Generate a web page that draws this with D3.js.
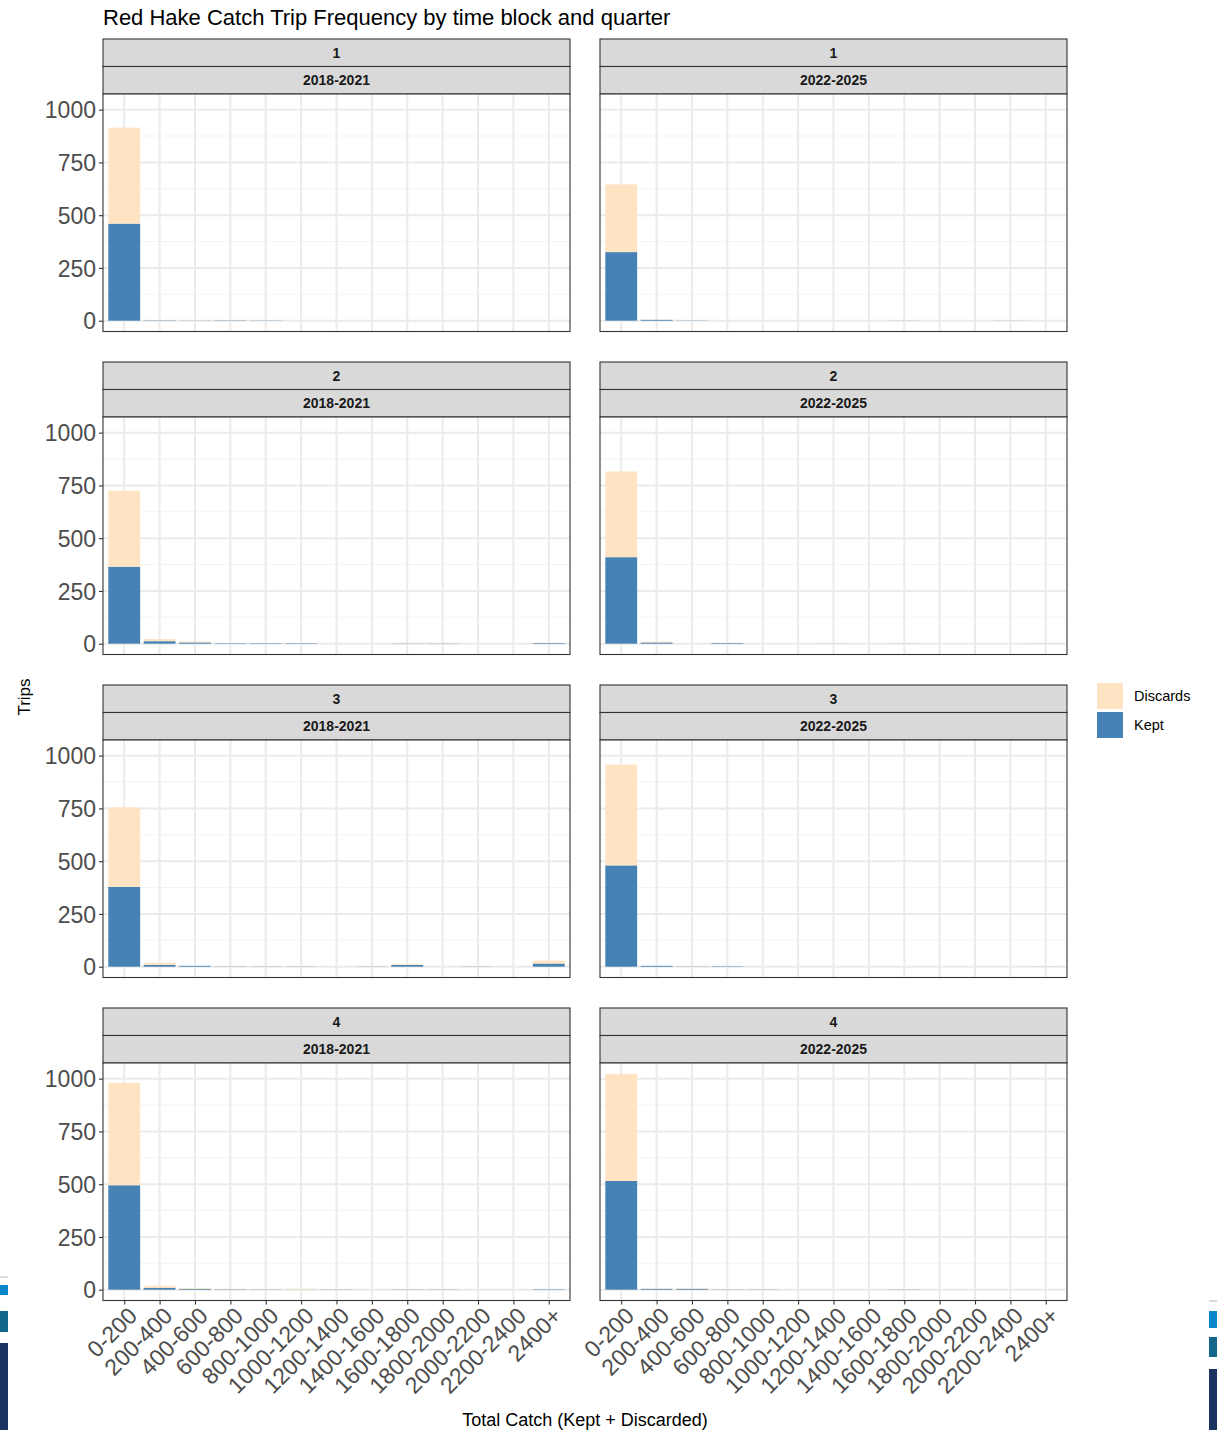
<!DOCTYPE html>
<html><head><meta charset="utf-8">
<script src="https://cdn.jsdelivr.net/npm/d3@7"></script>
<style>body{margin:0;background:#fff;} text{font-family:"Liberation Sans",Arial,sans-serif;}</style>
</head><body><svg id="c" width="1217" height="1430"></svg>
<script>
const categories = ["0-200","200-400","400-600","600-800","800-1000","1000-1200","1200-1400","1400-1600","1600-1800","1800-2000","2000-2200","2200-2400","2400+"];
const quarters = ["1","2","3","4"];
const blocks = ["2018-2021","2022-2025"];
const yTicks = [0,250,500,750,1000];
const seriesNames = ["Discards","Kept"];

// Q1
const keptQ1A = [460,2,1,2,1,0,0,0,0,0,0,0,0];
const discQ1A = [455,1,1,1,0,0,0,0,0,0,0,0,0];
const keptQ1B = [325,4,1,0,0,0,0,0,0.5,0,0,0.5,0];
const discQ1B = [321,1,0,0,0,0,0,0,0,0,0,0,0];
// Q2
const keptQ2A = [365,12,6,2,2,2,0,0,1,1,0,0,3];
const discQ2A = [360,10,5,0,0,0,0,0,0,0,0,0,0];
const keptQ2B = [410,6,0,3,0,0,0.5,0,0.5,0,0,0,0.5];
const discQ2B = [406,4,0,0,0,0,0,0,0,0,0,0,0];
// Q3
const keptQ3A = [378,9,4,1,1,1,0,1,8,0,1,0,15];
const discQ3A = [377,10,0,0,1,1,0,1,4,0,1,0,14];
const keptQ3B = [480,4,1,2,0,0,0,0,0,0,0,0,0.5];
const discQ3B = [478,0,0,0,0,0,0,0,0,0,0,0,0];
// Q4
const keptQ4A = [495,9,4,2,1,1,1,0,1,1,0,0,2];
const discQ4A = [485,10,4,1,0,3,0,0,0,0,0,0,0];
const keptQ4B = [515,4,4,1,1,0,0,0,1,0,0,0,0];
const discQ4B = [508,3,3,0,0,0,0,0,0,0,0,0,0];

const panelData = [
  [keptQ1A, discQ1A, keptQ1B, discQ1B],
  [keptQ2A, discQ2A, keptQ2B, discQ2B],
  [keptQ3A, discQ3A, keptQ3B, discQ3B],
  [keptQ4A, discQ4A, keptQ4B, discQ4B]
];

const colors = {Kept:"#4682B4", Discards:"#FFE4C4"};
const svg = d3.select("#c");

// background decorations at edges
const deco = [
  {x:0,y:1276,w:8,h:2,c:"#D8DCE0"},{x:0,y:1285,w:8,h:10,c:"#0A87C8"},{x:0,y:1311,w:8,h:21,c:"#13678A"},{x:0,y:1343,w:8,h:87,c:"#1B3360"},
  {x:1209,y:1300,w:8,h:2,c:"#D8DCE0"},{x:1209,y:1311,w:8,h:17,c:"#0A87C8"},{x:1209,y:1337,w:8,h:20,c:"#13678A"},{x:1209,y:1369,w:8,h:61,c:"#1B3360"}
];
svg.selectAll("rect.deco").data(deco).enter().append("rect").attr("class","deco")
  .attr("x",d=>d.x).attr("y",d=>d.y).attr("width",d=>d.w).attr("height",d=>d.h).attr("fill",d=>d.c);

const panelX = [103, 600], panelW = 467;
const rowTop0 = 39, rowPitch = 323, stripH = 27.5, plotH = 237.5;

let maxTotal = 0;
panelData.forEach(r => { for (let b=0;b<2;b++){ const k=r[b*2], d=r[b*2+1]; k.forEach((v,i)=>{maxTotal=Math.max(maxTotal,v+d[i]);}); }});

svg.append("text").attr("x",103).attr("y",25).attr("font-size",22).attr("fill","#000")
  .text("Red Hake Catch Trip Frequency by time block and quarter");

quarters.forEach((q, r) => {
  const top = rowTop0 + r*rowPitch;
  const plotTop = top + 2*stripH;
  const plotBottom = plotTop + plotH;
  const y = d3.scaleLinear().domain([-0.05*maxTotal, 1.05*maxTotal]).range([plotBottom, plotTop]);
  blocks.forEach((blk, c) => {
    const x0 = panelX[c];
    const x = d3.scalePoint().domain(categories).range([x0, x0+panelW]).padding(0.6);
    const bw = x.step()*0.9;
    const g = svg.append("g");
    // strips
    [q, blk].forEach((lab, s) => {
      g.append("rect").attr("x",x0).attr("y",top+s*stripH).attr("width",panelW).attr("height",stripH)
        .attr("fill","#D9D9D9").attr("stroke","#333333").attr("stroke-width",1.1);
      g.append("text").attr("x",x0+panelW/2).attr("y",top+s*stripH+stripH/2+5).attr("text-anchor","middle")
        .attr("font-size",14).attr("font-weight","bold").attr("fill","#1A1A1A").text(lab);
    });
    // panel bg
    g.append("rect").attr("x",x0).attr("y",plotTop).attr("width",panelW).attr("height",plotH).attr("fill","#fff");
    // minor grid
    const minor = [125,375,625,875];
    g.selectAll("line.mn").data(minor).enter().append("line")
      .attr("x1",x0).attr("x2",x0+panelW).attr("y1",d=>y(d)).attr("y2",d=>y(d))
      .attr("stroke","#F4F4F4").attr("stroke-width",1.1);
    g.selectAll("line.mj").data(yTicks).enter().append("line")
      .attr("x1",x0).attr("x2",x0+panelW).attr("y1",d=>y(d)).attr("y2",d=>y(d))
      .attr("stroke","#EBEBEB").attr("stroke-width",2);
    g.selectAll("line.vx").data(categories).enter().append("line")
      .attr("x1",d=>x(d)).attr("x2",d=>x(d)).attr("y1",plotTop).attr("y2",plotBottom)
      .attr("stroke","#EBEBEB").attr("stroke-width",2);
    // bars
    const kept = panelData[r][c*2], disc = panelData[r][c*2+1];
    const rows = categories.map((cat,i)=>({cat, Kept:kept[i], Discards:disc[i]}));
    const stack = d3.stack().keys(["Kept","Discards"])(rows);
    stack.forEach(layer => {
      g.selectAll(null).data(layer).enter().append("rect")
        .attr("x",d=>x(d.data.cat)-bw/2).attr("width",bw)
        .attr("y",d=>y(d[1])).attr("height",d=>Math.max(0,y(d[0])-y(d[1])))
        .attr("fill",colors[layer.key]);
    });
    // border
    g.append("rect").attr("x",x0).attr("y",plotTop).attr("width",panelW).attr("height",plotH)
      .attr("fill","none").attr("stroke","#333333").attr("stroke-width",1.1);
    // y axis (left column only)
    if (c===0) {
      const ya = d3.axisLeft(y).tickValues(yTicks).tickFormat(d3.format("d")).tickSize(4).tickPadding(3);
      const ag = svg.append("g").attr("transform",`translate(${x0},0)`).call(ya);
      ag.select(".domain").remove();
      ag.selectAll(".tick line").attr("stroke","#333333").attr("stroke-width",1.1);
      ag.selectAll(".tick text").attr("font-size",23).attr("fill","#4D4D4D").attr("dy","0.36em")
        .style("font-family","'Liberation Sans',Arial,sans-serif");
    }
    // x axis (bottom row only)
    if (r===3) {
      const xa = d3.axisBottom(x).tickSize(4).tickPadding(3);
      const ag = svg.append("g").attr("transform",`translate(0,${plotBottom})`).call(xa);
      ag.select(".domain").remove();
      ag.selectAll(".tick line").attr("stroke","#333333").attr("stroke-width",1.1);
      ag.selectAll(".tick text").attr("font-size",23).attr("fill","#4D4D4D")
        .style("font-family","'Liberation Sans',Arial,sans-serif")
        .attr("text-anchor","end").attr("x",0).attr("y",0).attr("dy","0.72em")
        .attr("transform","translate(2,5) rotate(-45)");
    }
  });
});

// axis titles
svg.append("text").attr("x",585).attr("y",1426).attr("text-anchor","middle").attr("font-size",18).attr("fill","#000")
  .text("Total Catch (Kept + Discarded)");
svg.append("text").attr("transform","translate(30,697) rotate(-90)").attr("text-anchor","middle").attr("font-size",17).attr("fill","#000")
  .text("Trips");

// legend
const lg = svg.append("g").attr("transform","translate(1097,683)");
seriesNames.forEach((s,i)=>{
  lg.append("rect").attr("x",0).attr("y",i*29).attr("width",26).attr("height",26).attr("fill",colors[s]);
  lg.append("text").attr("x",37).attr("y",i*29+18).attr("font-size",14.5).attr("fill","#000").text(s);
});
</script></body></html>
